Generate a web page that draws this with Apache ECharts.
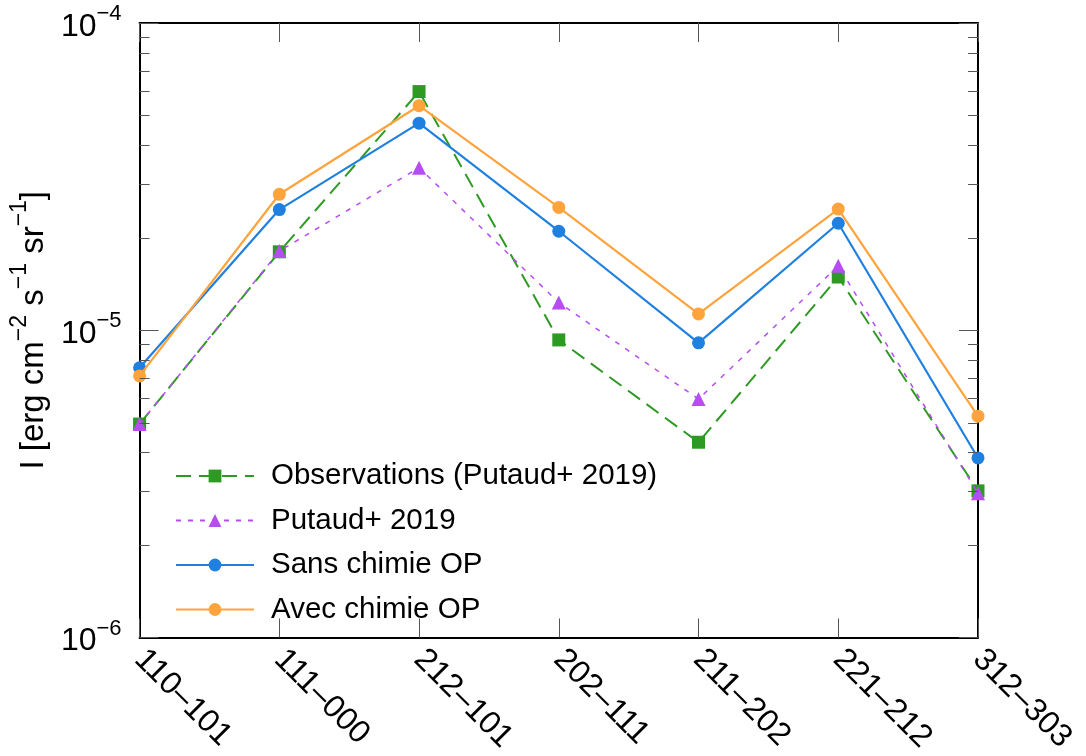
<!DOCTYPE html>
<html>
<head>
<meta charset="utf-8">
<script src="https://cdn.jsdelivr.net/npm/echarts@6/dist/echarts.min.js"></script>
<style>
html,body{margin:0;padding:0;background:#fff;}
#chart{width:1086px;height:756px;}
</style>
</head>
<body>
<div id="chart"></div>
<script>
var categories = ['110–101', '111–000', '212–101', '202–111', '211–202', '221–212', '312–303'];
var observations = [4.95e-6, 1.80e-5, 5.98e-5, 9.3e-6, 4.32e-6, 1.49e-5, 3.0e-6];
var putaud2019 = [4.95e-6, 1.81e-5, 3.38e-5, 1.23e-5, 5.97e-6, 1.62e-5, 2.95e-6];
var sansChimie = [7.55e-6, 2.47e-5, 4.72e-5, 2.10e-5, 9.1e-6, 2.23e-5, 3.84e-6];
var avecChimie = [7.1e-6, 2.77e-5, 5.38e-5, 2.51e-5, 1.13e-5, 2.48e-5, 5.25e-6];
var seriesNames = ['Observations (Putaud+ 2019)', 'Putaud+ 2019', 'Sans chimie OP', 'Avec chimie OP'];
var yMin = 1e-6, yMax = 1e-4;
var minorTickValues = [2e-6,3e-6,4e-6,5e-6,6e-6,7e-6,8e-6,9e-6,2e-5,3e-5,4e-5,5e-5,6e-5,7e-5,8e-5,9e-5];

var FONT = 'Liberation Sans, Arial, Helvetica, sans-serif';
var chart = echarts.init(document.getElementById('chart'), null, {renderer: 'canvas'});

function expLabel(v) {
  var e = Math.round(Math.log10(v));
  return '{b|10}{s|' + (e < 0 ? '−' + (-e) : e) + '}';
}

var frameLine = {show: true, lineStyle: {color: '#000', width: 2}};
var majorTick = {show: true, inside: true, length: 19, lineStyle: {color: '#555', width: 1}};

var option = {
  animation: false,
  backgroundColor: '#fff',
  grid: {left: 138, right: 108, top: 23, bottom: 118, containLabel: false},
  legend: {
    orient: 'vertical',
    left: 170,
    top: 456,
    itemWidth: 78,
    itemHeight: 16,
    itemGap: 14.5,
    data: seriesNames,
    textStyle: {fontFamily: FONT, fontSize: 29.5, color: '#000', lineHeight: 30, padding: [0, 0, 0, 12]}
  },
  xAxis: [{
    type: 'category',
    data: categories,
    boundaryGap: false,
    position: 'bottom',
    axisLine: frameLine,
    axisTick: majorTick,
    splitLine: {show: false},
    axisLabel: {
      fontFamily: FONT, fontSize: 32, color: '#000', rotate: -45, margin: 17, interval: 0
    }
  }, {
    type: 'category',
    data: categories,
    boundaryGap: false,
    position: 'top',
    axisLine: frameLine,
    axisTick: majorTick,
    axisLabel: {show: false},
    splitLine: {show: false}
  }],
  yAxis: [{
    type: 'log',
    logBase: 10,
    min: yMin,
    max: yMax,
    position: 'left',
    axisLine: frameLine,
    axisTick: majorTick,
    splitLine: {show: false},
    axisLabel: {
      margin: 18,
      formatter: expLabel,
      rich: {
        b: {fontFamily: FONT, fontSize: 32, color: '#000', lineHeight: 40, verticalAlign: 'bottom'},
        s: {fontFamily: FONT, fontSize: 22, color: '#000', lineHeight: 40, verticalAlign: 'top'}
      }
    },
    name: '{n|I [erg cm}{s|−2}{n| s}{s|−1}{n| sr}{s|−1}{n|]}',
    nameLocation: 'middle',
    nameRotate: 90,
    nameGap: 82,
    nameTextStyle: {
      rich: {
        n: {fontFamily: FONT, fontSize: 33, color: '#000', lineHeight: 42, verticalAlign: 'bottom'},
        s: {fontFamily: FONT, fontSize: 23, color: '#000', lineHeight: 42, verticalAlign: 'top'}
      }
    }
  }, {
    type: 'log',
    logBase: 10,
    min: yMin,
    max: yMax,
    position: 'right',
    axisLine: frameLine,
    axisTick: majorTick,
    axisLabel: {show: false},
    splitLine: {show: false}
  }],
  series: [{
    name: seriesNames[0],
    type: 'line',
    data: observations,
    symbol: 'rect',
    symbolSize: 13,
    color: '#2e9a24',
    lineStyle: {width: 2, type: [15, 8], color: '#2e9a24'},
    itemStyle: {color: '#2e9a24'},
    z: 3
  }, {
    name: seriesNames[1],
    type: 'line',
    data: putaud2019,
    symbol: 'triangle',
    symbolSize: 14,
    color: '#b64cf2',
    lineStyle: {width: 1.5, type: [5, 7], color: '#b64cf2'},
    itemStyle: {color: '#b64cf2'},
    z: 4
  }, {
    name: seriesNames[2],
    type: 'line',
    data: sansChimie,
    symbol: 'circle',
    symbolSize: 13,
    color: '#2080e0',
    lineStyle: {width: 2.2, type: 'solid', color: '#2080e0'},
    itemStyle: {color: '#2080e0'},
    z: 5
  }, {
    name: seriesNames[3],
    type: 'line',
    data: avecChimie,
    symbol: 'circle',
    symbolSize: 13,
    color: '#ffa33c',
    lineStyle: {width: 2.2, type: 'solid', color: '#ffa33c'},
    itemStyle: {color: '#ffa33c'},
    z: 6
  }, {
    name: 'minorTicks',
    type: 'custom',
    silent: true,
    z: 10,
    data: minorTickValues.map(function (v) { return [0, v]; }),
    renderItem: function (params, api) {
      var pt = api.coord([0, api.value(1)]);
      var cs = params.coordSys;
      var y = Math.round(pt[1]) + 0.5;
      return {
        type: 'group',
        children: [{
          type: 'line',
          shape: {x1: cs.x, y1: y, x2: cs.x + 10, y2: y},
          style: {stroke: '#555', lineWidth: 1}
        }, {
          type: 'line',
          shape: {x1: cs.x + cs.width - 10, y1: y, x2: cs.x + cs.width, y2: y},
          style: {stroke: '#555', lineWidth: 1}
        }]
      };
    }
  }]
};
chart.setOption(option);
</script>
</body>
</html>
